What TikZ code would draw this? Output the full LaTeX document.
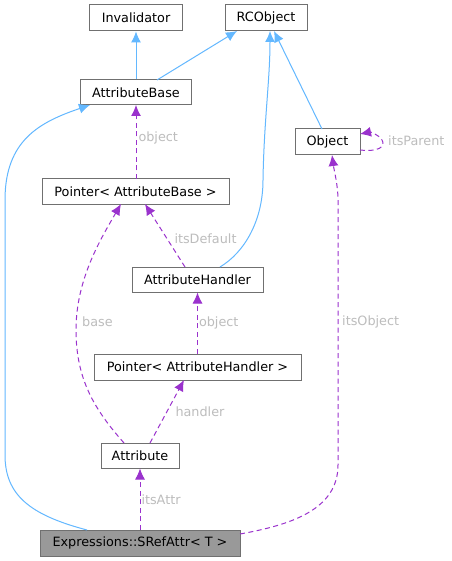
\documentclass[tikz,border=0pt]{standalone}
\usepackage{fontspec}
\setmainfont{DejaVu Sans}
\usetikzlibrary{arrows.meta}
\definecolor{inh}{HTML}{63B8FF}
\definecolor{use}{HTML}{9A32CD}
\definecolor{lbl}{HTML}{BDBDBD}
\definecolor{bord}{HTML}{707070}
\begin{document}
\begin{tikzpicture}[x=1pt,y=-1pt,
  cls/.style={draw=bord,line width=1pt,fill=white,inner sep=0pt,font=\fontsize{12.8}{14}\selectfont,text=black},
  inhedge/.style={draw=inh,line width=1pt,-{Latex[length=11pt,width=10pt]}},
  useedge/.style={draw=use,line width=1pt,dash pattern=on 5pt off 3.5pt,-{Latex[length=11pt,width=10pt]}},
  elabel/.style={text=lbl,font=\fontsize{12.8}{14}\selectfont,inner sep=1pt}]
\useasboundingbox (0,0) rectangle (451,561);
\fill[white] (0,0) rectangle (451,561);
% nodes
\node[cls,minimum width=93pt,minimum height=26pt] (inv) at (136,18) {Invalidator};
\node[cls,minimum width=82pt,minimum height=26pt] (rco) at (266,18) {RCObject};
\node[cls,minimum width=111pt,minimum height=25pt] (ab) at (136,92.5) {AttributeBase};
\node[cls,minimum width=65pt,minimum height=26pt] (obj) at (327.5,142) {Object};
\node[cls,minimum width=187pt,minimum height=25pt] (pab) at (135.5,191.5) {Pointer< AttributeBase >};
\node[cls,minimum width=131pt,minimum height=25pt] (ah) at (197.5,279.5) {AttributeHandler};
\node[cls,minimum width=207pt,minimum height=26pt] (pah) at (197.5,367) {Pointer< AttributeHandler >};
\node[cls,minimum width=78pt,minimum height=25pt] (attr) at (140,455.5) {Attribute};
\node[cls,fill=black!40,minimum width=200pt,minimum height=26pt] (sra) at (140,543) {Expressions::SRefAttr< T >};
% named anchor points
\coordinate (abbotA) at (90,105);
\coordinate (rcoB1) at (237,31);
\coordinate (rcoB2) at (270,31);
\coordinate (rcoB3) at (274,31);
\coordinate (objT) at (322,129);
\coordinate (abT2) at (157,80);
\coordinate (ahT) at (220,267);
\coordinate (sraL) at (87,530);
\coordinate (sraR) at (240,534);
\coordinate (objB) at (332,155);
\coordinate (pabB1) at (121,204);
\coordinate (pabB2) at (145,204);
\coordinate (attrT1) at (124,443);
\coordinate (attrT2) at (150,443);
\coordinate (ahT2) at (185,267);
\coordinate (pahB) at (184,380);
\coordinate (objR1) at (360,150);
\coordinate (objR2) at (360,134);
\coordinate (abB) at (136,105);
\coordinate (pabT) at (136,179);
% inheritance
\draw[inhedge] (ab.north) -- (inv.south);
\draw[inhedge] (abT2) -- (rcoB1);
\draw[inhedge] (objT) -- (rcoB3);
\draw[inhedge] (ahT) .. controls (245,252) and (263,220) .. (263,180) .. controls (264,120) and (270,80) .. (rcoB2);
\draw[inhedge] (sraL) .. controls (30,515) and (5,495) .. (5,455) -- (5,200) .. controls (5,140) and (40,122) .. (abbotA);
% usage
\draw[useedge] (pabT) -- node[elabel,right,pos=0.55,xshift=1pt] {object} (abB);
\draw[useedge] (ahT2) -- node[elabel,right,pos=0.45,xshift=6pt] {itsDefault} (pabB2);
\draw[useedge] (attrT1) .. controls (95,410) and (76,380) .. (76,330) .. controls (76,280) and (100,240) .. (pabB1);
\node[elabel,anchor=west] (lbase) at (81,322) {base};
\draw[useedge] (pah.north) -- node[elabel,right,pos=0.5] {object} (ah.south);
\draw[useedge] (attrT2) -- node[elabel,right,pos=0.5,xshift=7pt] {handler} (pahB);
\draw[useedge] (sra.north) -- node[elabel,right,pos=0.48] {itsAttr} (attr.south);
\draw[useedge] (sraR) .. controls (290,525) and (338,510) .. (338,465) -- (338,200) .. controls (338,185) and (334,170) .. (objB);
\node[elabel,anchor=west] (lobj) at (341,322) {itsObject};
\draw[useedge] (objR1) .. controls (378,152) and (386,147) .. (382,140) .. controls (378,134) and (370,132) .. (objR2);
\node[elabel,anchor=west] (lpar) at (387,141) {itsParent};
\end{tikzpicture}
\end{document}
